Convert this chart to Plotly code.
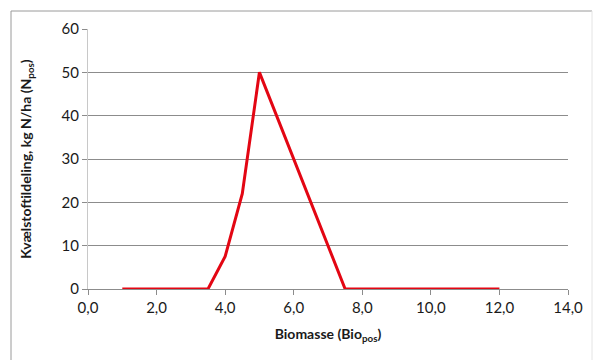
import plotly.graph_objects as go

# Nitrogen application (kg N/ha) as a function of biomass
biomasse = [1.0, 3.5, 4.0, 4.5, 5.0, 5.5, 6.0, 6.5, 7.0, 7.5, 12.0]
kvaelstof = [0, 0, 7.5, 22, 50, 40, 30, 20, 10, 0, 0]

x_ticks = [0, 2, 4, 6, 8, 10, 12, 14]
y_ticks = [0, 10, 20, 30, 40, 50, 60]

font_family = "Lato, 'Open Sans', sans-serif"
grid_col = "#8c8c8c"

fig = go.Figure()
fig.add_trace(go.Scatter(
    x=biomasse, y=kvaelstof, mode="lines",
    line=dict(color="#e30613", width=3),
    hoverinfo="skip", showlegend=False,
))

fig.update_layout(
    width=596, height=360,
    margin=dict(l=88, r=28, t=29, b=71),
    paper_bgcolor="white", plot_bgcolor="white",
    font=dict(family=font_family, size=15, color="#1a1a1a"),
    separators=",.",
    xaxis=dict(
        range=[0, 14], tickvals=x_ticks, tickformat=".1f",
        showgrid=False, zeroline=False,
        showline=True, linecolor=grid_col, linewidth=1,
        ticks="outside", ticklen=5, tickcolor=grid_col,
        tickfont=dict(size=15),
        title=dict(text="<b>Biomasse (Bio<sub>pos</sub>)</b>",
                   font=dict(size=14), standoff=14),
    ),
    yaxis=dict(
        range=[0, 60], tickvals=y_ticks,
        showgrid=True, gridcolor=grid_col, gridwidth=1,
        zeroline=False,
        showline=True, linecolor="#c8c8c8", linewidth=1,
        ticks="outside", ticklen=5, tickcolor=grid_col,
        tickfont=dict(size=15),
        title=dict(text="<b>Kvælstoftildeling, kg N/ha (N<sub>pos</sub>)</b>",
                   font=dict(size=14), standoff=26),
    ),
    shapes=[
        # outer chart frame
        dict(type="line", xref="paper", yref="paper",
             x0=-77 / 480, x1=1.0 + 24 / 480, y0=1 + 18 / 260, y1=1 + 18 / 260,
             line=dict(color="#9a9a9a", width=1)),
        dict(type="line", xref="paper", yref="paper",
             x0=-77 / 480, x1=-77 / 480, y0=1 + 18 / 260, y1=-72 / 260,
             line=dict(color="#9a9a9a", width=1)),
        dict(type="line", xref="paper", yref="paper",
             x0=1.0 + 24 / 480, x1=1.0 + 24 / 480, y0=1 + 18 / 260, y1=-72 / 260,
             line=dict(color="#e4e4e4", width=1)),
    ],
)

fig.write_html("out.html")
